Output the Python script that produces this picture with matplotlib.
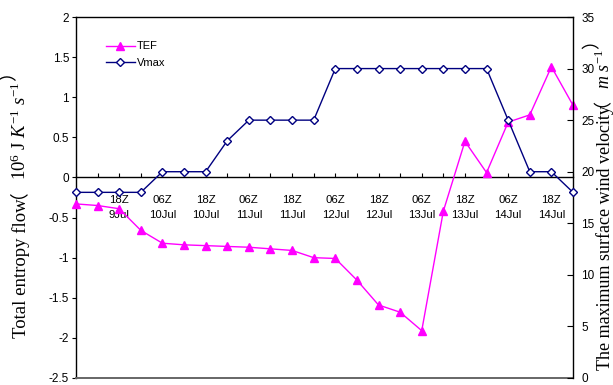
import matplotlib
matplotlib.use("Agg")
import matplotlib.pyplot as plt
import numpy as np

plt.rcParams['axes.unicode_minus'] = False
plt.rcParams['mathtext.fontset'] = 'custom'
plt.rcParams['mathtext.rm'] = 'Liberation Serif'
plt.rcParams['mathtext.it'] = 'Liberation Serif:italic'

# 6-hourly times, 06Z 9Jul .. 00Z 15Jul
time_labels = ["", "", "18Z\n9Jul", "", "06Z\n10Jul", "", "18Z\n10Jul", "", "06Z\n11Jul", "",
               "18Z\n11Jul", "", "06Z\n12Jul", "", "18Z\n12Jul", "", "06Z\n13Jul", "",
               "18Z\n13Jul", "", "06Z\n14Jul", "", "18Z\n14Jul", ""]
tef = [-0.33, -0.35, -0.39, -0.66, -0.82, -0.84, -0.85, -0.86, -0.87, -0.89, -0.91, -1.00,
       -1.01, -1.28, -1.59, -1.68, -1.91, -0.42, 0.45, 0.06, 0.69, 0.78, 1.38, 0.90]
vmax = [18, 18, 18, 18, 20, 20, 20, 23, 25, 25, 25, 25, 30, 30, 30, 30, 30, 30, 30, 30, 25, 20, 20, 18]
left_ticks = [-2.5, -2, -1.5, -1, -0.5, 0, 0.5, 1, 1.5, 2]
left_tick_labels = ["-2.5", "-2", "-1.5", "-1", "-0.5", "0", "0.5", "1", "1.5", "2"]
right_ticks = [0, 5, 10, 15, 20, 25, 30, 35]
left_label_parts = ["Total entropy flow", "（", "10$^{6}$ J $K^{-1}$ $s^{-1}$", "）"]
right_label_parts = ["The maximum surface wind velocity", "（", "$m$ $s^{-1}$", "）"]

W, H = 613, 385
fig = plt.figure(figsize=(W / 100, H / 100), dpi=100)
L, R, T, B = 76, 573, 17, 378
ax = fig.add_axes([L / W, 1 - B / H, (R - L) / W, (B - T) / H])
ax2 = ax.twinx()

x = np.arange(len(tef))
l1, = ax.plot(x, tef, color='#FF00FF', lw=1.0, marker='^', ms=5.5, mec='#FF00FF',
              mfc='#FF00FF', label='TEF', clip_on=False, zorder=3)
l2, = ax2.plot(x, vmax, color='#000080', lw=1.0, marker='D', ms=3.8, mec='#000080',
               mfc='white', mew=1.0, label='Vmax', clip_on=False, zorder=3)

ax.set_xlim(0, len(tef) - 1)
ax.set_ylim(-2.5, 2)
ax2.set_ylim(0, 35)

ax.spines['bottom'].set_position(('data', 0))
ax.spines['right'].set_visible(False)
for s in ['top', 'bottom', 'left']:
    ax2.spines[s].set_visible(False)
for s in ['top', 'bottom', 'left']:
    ax.spines[s].set_color('black')
    ax.spines[s].set_linewidth(1.0)
ax2.spines['right'].set_color('black')
ax2.spines['right'].set_linewidth(1.0)
ax.axhline(-2.5, color='#666666', lw=1.4, clip_on=False, zorder=5)

ax.set_xticks(x)
ax.set_xticklabels(time_labels, fontsize=8.2, family='Liberation Sans', linespacing=1.55)
ax.tick_params(axis='x', direction='in', length=3, width=0.8, pad=13)

ax.set_yticks(left_ticks)
ax.set_yticklabels(left_tick_labels, fontsize=8.5, family='Liberation Sans')
ax.tick_params(axis='y', direction='out', length=3, width=0.8, pad=2)

ax2.set_yticks(right_ticks)
ax2.set_yticklabels([str(v) for v in right_ticks], fontsize=8.5, family='Liberation Sans')
ax2.tick_params(axis='y', direction='in', length=4, width=0.8, pad=6)

leg = ax2.legend(handles=[l1, l2], loc='upper left', bbox_to_anchor=(0.04, 0.96),
                 frameon=False, handlelength=2.6, handletextpad=0.2,
                 labelspacing=0.6, prop={'family': 'Liberation Sans', 'size': 8})

renderer = fig.canvas.get_renderer()


def vertical_label(parts, x_base, y_start, size, paren_overlap=0.0):
    """Place pieces of a rotated (bottom-to-top) label along a common baseline."""
    y = y_start  # pixels from bottom
    em = size * 100 / 72
    for p in parts:
        is_paren = p in ("（", "）")
        if is_paren:
            if p == "（":
                y -= paren_overlap * em
            fig.text((x_base - 0.97 * em) / W, y / H, p, rotation=90,
                     rotation_mode='anchor', ha='left', va='center',
                     fontsize=size, family='Noto Sans CJK SC')
            y += em
        else:
            t = fig.text(x_base / W, y / H, p, rotation=90, rotation_mode='anchor',
                         ha='left', va='baseline', fontsize=size, family='Liberation Serif')
            y += t.get_window_extent(renderer).height


vertical_label(left_label_parts, 26, H - 338, 13.5)
vertical_label(right_label_parts, 610, H - 370, 13, paren_overlap=0.1)

fig.savefig("out.png", dpi=100)
